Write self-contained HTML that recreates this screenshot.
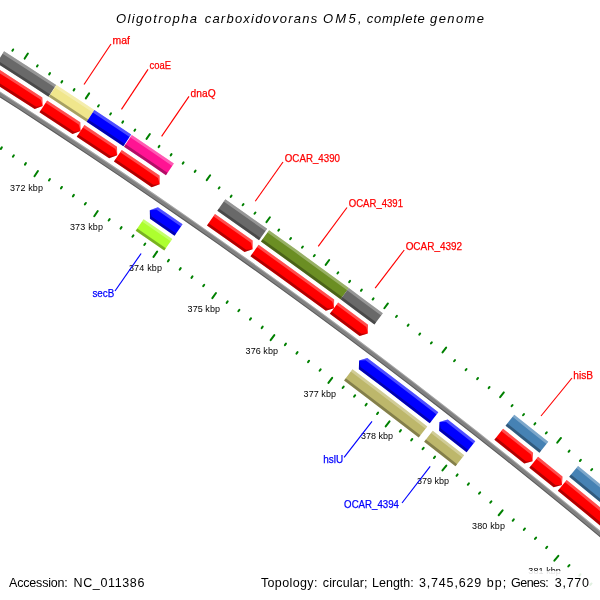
<!DOCTYPE html>
<html><head><meta charset="utf-8"><title>Oligotropha carboxidovorans OM5, complete genome</title>
<style>html,body{margin:0;padding:0;background:#fff;}svg{display:block;will-change:transform;}</style></head>
<body>
<svg width="600" height="600" viewBox="0 0 600 600" font-family="'Liberation Sans', sans-serif">
<rect width="600" height="600" fill="#fff"/>
<g stroke-linecap="round"><line x1="12.36" y1="50.71" x2="13.17" y2="49.44" stroke="#008000" stroke-width="2.0"/>
<line x1="24.65" y1="58.58" x2="27.89" y2="53.53" stroke="#008000" stroke-width="2.0"/>
<line x1="36.93" y1="66.48" x2="37.74" y2="65.22" stroke="#008000" stroke-width="2.0"/>
<line x1="49.18" y1="74.42" x2="50.00" y2="73.16" stroke="#008000" stroke-width="2.0"/>
<line x1="1.82" y1="147.39" x2="0.84" y2="148.90" stroke="#008000" stroke-width="2.0"/>
<line x1="61.42" y1="82.38" x2="62.24" y2="81.12" stroke="#008000" stroke-width="2.0"/>
<line x1="13.88" y1="155.24" x2="12.89" y2="156.75" stroke="#008000" stroke-width="2.0"/>
<line x1="73.63" y1="90.37" x2="74.45" y2="89.12" stroke="#008000" stroke-width="2.0"/>
<line x1="25.92" y1="163.12" x2="24.93" y2="164.63" stroke="#008000" stroke-width="2.0"/>
<line x1="85.83" y1="98.39" x2="89.13" y2="93.38" stroke="#008000" stroke-width="2.0"/>
<line x1="37.94" y1="171.03" x2="34.47" y2="176.29" stroke="#008000" stroke-width="2.0"/>
<line x1="98.01" y1="106.44" x2="98.84" y2="105.19" stroke="#008000" stroke-width="2.0"/>
<line x1="49.95" y1="178.96" x2="48.95" y2="180.46" stroke="#008000" stroke-width="2.0"/>
<line x1="110.17" y1="114.52" x2="111.00" y2="113.27" stroke="#008000" stroke-width="2.0"/>
<line x1="61.93" y1="186.93" x2="60.93" y2="188.42" stroke="#008000" stroke-width="2.0"/>
<line x1="122.31" y1="122.63" x2="123.14" y2="121.38" stroke="#008000" stroke-width="2.0"/>
<line x1="73.90" y1="194.92" x2="72.90" y2="196.41" stroke="#008000" stroke-width="2.0"/>
<line x1="134.43" y1="130.77" x2="135.26" y2="129.52" stroke="#008000" stroke-width="2.0"/>
<line x1="85.85" y1="202.94" x2="84.84" y2="204.43" stroke="#008000" stroke-width="2.0"/>
<line x1="146.53" y1="138.93" x2="149.89" y2="133.96" stroke="#008000" stroke-width="2.0"/>
<line x1="97.77" y1="210.99" x2="94.24" y2="216.21" stroke="#008000" stroke-width="2.0"/>
<line x1="158.61" y1="147.13" x2="159.45" y2="145.89" stroke="#008000" stroke-width="2.0"/>
<line x1="109.68" y1="219.07" x2="108.67" y2="220.55" stroke="#008000" stroke-width="2.0"/>
<line x1="170.67" y1="155.35" x2="171.52" y2="154.11" stroke="#008000" stroke-width="2.0"/>
<line x1="121.57" y1="227.17" x2="120.56" y2="228.66" stroke="#008000" stroke-width="2.0"/>
<line x1="182.71" y1="163.60" x2="183.56" y2="162.37" stroke="#008000" stroke-width="2.0"/>
<line x1="133.44" y1="235.31" x2="132.42" y2="236.79" stroke="#008000" stroke-width="2.0"/>
<line x1="194.73" y1="171.88" x2="195.58" y2="170.65" stroke="#008000" stroke-width="2.0"/>
<line x1="145.29" y1="243.47" x2="144.27" y2="244.95" stroke="#008000" stroke-width="2.0"/>
<line x1="206.73" y1="180.19" x2="210.16" y2="175.26" stroke="#008000" stroke-width="2.0"/>
<line x1="157.12" y1="251.66" x2="153.53" y2="256.84" stroke="#008000" stroke-width="2.0"/>
<line x1="218.72" y1="188.53" x2="219.57" y2="187.30" stroke="#008000" stroke-width="2.0"/>
<line x1="168.93" y1="259.88" x2="167.90" y2="261.36" stroke="#008000" stroke-width="2.0"/>
<line x1="230.68" y1="196.90" x2="231.54" y2="195.67" stroke="#008000" stroke-width="2.0"/>
<line x1="180.73" y1="268.13" x2="179.69" y2="269.60" stroke="#008000" stroke-width="2.0"/>
<line x1="242.62" y1="205.30" x2="243.48" y2="204.07" stroke="#008000" stroke-width="2.0"/>
<line x1="192.50" y1="276.41" x2="191.46" y2="277.88" stroke="#008000" stroke-width="2.0"/>
<line x1="254.54" y1="213.72" x2="255.41" y2="212.50" stroke="#008000" stroke-width="2.0"/>
<line x1="204.25" y1="284.71" x2="203.21" y2="286.18" stroke="#008000" stroke-width="2.0"/>
<line x1="266.44" y1="222.17" x2="269.92" y2="217.29" stroke="#008000" stroke-width="2.0"/>
<line x1="215.98" y1="293.04" x2="212.33" y2="298.18" stroke="#008000" stroke-width="2.0"/>
<line x1="278.33" y1="230.65" x2="279.20" y2="229.44" stroke="#008000" stroke-width="2.0"/>
<line x1="227.69" y1="301.40" x2="226.65" y2="302.87" stroke="#008000" stroke-width="2.0"/>
<line x1="290.19" y1="239.16" x2="291.06" y2="237.95" stroke="#008000" stroke-width="2.0"/>
<line x1="239.39" y1="309.79" x2="238.33" y2="311.25" stroke="#008000" stroke-width="2.0"/>
<line x1="302.03" y1="247.70" x2="302.91" y2="246.49" stroke="#008000" stroke-width="2.0"/>
<line x1="251.06" y1="318.21" x2="250.00" y2="319.67" stroke="#008000" stroke-width="2.0"/>
<line x1="313.85" y1="256.27" x2="314.73" y2="255.06" stroke="#008000" stroke-width="2.0"/>
<line x1="262.71" y1="326.65" x2="261.65" y2="328.11" stroke="#008000" stroke-width="2.0"/>
<line x1="325.65" y1="264.86" x2="329.19" y2="260.02" stroke="#008000" stroke-width="2.0"/>
<line x1="274.34" y1="335.13" x2="270.62" y2="340.21" stroke="#008000" stroke-width="2.0"/>
<line x1="337.43" y1="273.49" x2="338.31" y2="272.28" stroke="#008000" stroke-width="2.0"/>
<line x1="285.95" y1="343.63" x2="284.89" y2="345.08" stroke="#008000" stroke-width="2.0"/>
<line x1="349.18" y1="282.14" x2="350.07" y2="280.93" stroke="#008000" stroke-width="2.0"/>
<line x1="297.54" y1="352.15" x2="296.47" y2="353.60" stroke="#008000" stroke-width="2.0"/>
<line x1="360.92" y1="290.82" x2="361.82" y2="289.61" stroke="#008000" stroke-width="2.0"/>
<line x1="309.11" y1="360.71" x2="308.04" y2="362.16" stroke="#008000" stroke-width="2.0"/>
<line x1="372.64" y1="299.53" x2="373.54" y2="298.32" stroke="#008000" stroke-width="2.0"/>
<line x1="320.66" y1="369.29" x2="319.59" y2="370.74" stroke="#008000" stroke-width="2.0"/>
<line x1="384.34" y1="308.26" x2="387.93" y2="303.46" stroke="#008000" stroke-width="2.0"/>
<line x1="332.19" y1="377.90" x2="328.42" y2="382.95" stroke="#008000" stroke-width="2.0"/>
<line x1="396.01" y1="317.02" x2="396.91" y2="315.83" stroke="#008000" stroke-width="2.0"/>
<line x1="343.70" y1="386.54" x2="342.62" y2="387.98" stroke="#008000" stroke-width="2.0"/>
<line x1="407.66" y1="325.82" x2="408.57" y2="324.62" stroke="#008000" stroke-width="2.0"/>
<line x1="355.19" y1="395.21" x2="354.10" y2="396.64" stroke="#008000" stroke-width="2.0"/>
<line x1="419.30" y1="334.64" x2="420.20" y2="333.44" stroke="#008000" stroke-width="2.0"/>
<line x1="366.66" y1="403.90" x2="365.57" y2="405.33" stroke="#008000" stroke-width="2.0"/>
<line x1="430.91" y1="343.48" x2="431.82" y2="342.29" stroke="#008000" stroke-width="2.0"/>
<line x1="378.10" y1="412.62" x2="377.01" y2="414.05" stroke="#008000" stroke-width="2.0"/>
<line x1="442.50" y1="352.36" x2="446.15" y2="347.60" stroke="#008000" stroke-width="2.0"/>
<line x1="389.53" y1="421.37" x2="385.69" y2="426.37" stroke="#008000" stroke-width="2.0"/>
<line x1="454.07" y1="361.26" x2="454.99" y2="360.07" stroke="#008000" stroke-width="2.0"/>
<line x1="400.93" y1="430.15" x2="399.83" y2="431.57" stroke="#008000" stroke-width="2.0"/>
<line x1="465.62" y1="370.19" x2="466.54" y2="369.00" stroke="#008000" stroke-width="2.0"/>
<line x1="412.31" y1="438.95" x2="411.21" y2="440.37" stroke="#008000" stroke-width="2.0"/>
<line x1="477.14" y1="379.15" x2="478.07" y2="377.96" stroke="#008000" stroke-width="2.0"/>
<line x1="423.68" y1="447.78" x2="422.57" y2="449.20" stroke="#008000" stroke-width="2.0"/>
<line x1="488.65" y1="388.13" x2="489.57" y2="386.95" stroke="#008000" stroke-width="2.0"/>
<line x1="435.02" y1="456.64" x2="433.91" y2="458.05" stroke="#008000" stroke-width="2.0"/>
<line x1="500.13" y1="397.15" x2="503.84" y2="392.43" stroke="#008000" stroke-width="2.0"/>
<line x1="446.34" y1="465.52" x2="442.44" y2="470.47" stroke="#008000" stroke-width="2.0"/>
<line x1="511.60" y1="406.19" x2="512.53" y2="405.01" stroke="#008000" stroke-width="2.0"/>
<line x1="457.64" y1="474.43" x2="456.52" y2="475.84" stroke="#008000" stroke-width="2.0"/>
<line x1="523.04" y1="415.25" x2="523.97" y2="414.08" stroke="#008000" stroke-width="2.0"/>
<line x1="468.91" y1="483.37" x2="467.79" y2="484.78" stroke="#008000" stroke-width="2.0"/>
<line x1="534.45" y1="424.35" x2="535.39" y2="423.18" stroke="#008000" stroke-width="2.0"/>
<line x1="480.17" y1="492.33" x2="479.05" y2="493.74" stroke="#008000" stroke-width="2.0"/>
<line x1="545.85" y1="433.47" x2="546.79" y2="432.30" stroke="#008000" stroke-width="2.0"/>
<line x1="491.40" y1="501.33" x2="490.28" y2="502.73" stroke="#008000" stroke-width="2.0"/>
<line x1="557.23" y1="442.62" x2="560.99" y2="437.95" stroke="#008000" stroke-width="2.0"/>
<line x1="502.62" y1="510.35" x2="498.66" y2="515.25" stroke="#008000" stroke-width="2.0"/>
<line x1="568.58" y1="451.80" x2="569.52" y2="450.63" stroke="#008000" stroke-width="2.0"/>
<line x1="513.81" y1="519.39" x2="512.67" y2="520.79" stroke="#008000" stroke-width="2.0"/>
<line x1="579.91" y1="461.00" x2="580.86" y2="459.84" stroke="#008000" stroke-width="2.0"/>
<line x1="524.98" y1="528.46" x2="523.84" y2="529.86" stroke="#008000" stroke-width="2.0"/>
<line x1="591.22" y1="470.23" x2="592.17" y2="469.07" stroke="#008000" stroke-width="2.0"/>
<line x1="536.13" y1="537.56" x2="534.99" y2="538.96" stroke="#008000" stroke-width="2.0"/>
<line x1="547.25" y1="546.69" x2="546.11" y2="548.08" stroke="#008000" stroke-width="2.0"/>
<line x1="558.36" y1="555.84" x2="554.34" y2="560.70" stroke="#008000" stroke-width="2.0"/>
<line x1="569.44" y1="565.02" x2="568.29" y2="566.41" stroke="#008000" stroke-width="2.0"/>
<line x1="580.50" y1="574.23" x2="579.34" y2="575.61" stroke="#008000" stroke-width="2.0"/>
<line x1="591.54" y1="583.46" x2="590.38" y2="584.84" stroke="#008000" stroke-width="2.0"/></g>
<polygon points="-182.19,-20.91 -147.87,-0.42 -113.69,20.30 -79.65,41.25 -45.75,62.41 -11.99,83.81 21.63,105.42 55.11,127.26 88.44,149.31 121.63,171.59 154.67,194.08 187.56,216.79 220.30,239.72 252.88,262.86 285.32,286.22 317.59,309.79 349.72,333.58 381.68,357.57 413.49,381.78 445.13,406.19 476.62,430.81 507.94,455.64 539.10,480.68 570.09,505.92 600.91,531.36 631.56,557.01 662.05,582.86 692.36,608.91 722.50,635.16 752.47,661.61 749.15,665.34 719.21,638.92 689.09,612.69 658.80,586.66 628.34,560.84 597.71,535.21 566.92,509.79 535.95,484.57 504.82,459.55 473.52,434.74 442.07,410.14 410.45,385.75 378.67,361.56 346.73,337.59 314.63,313.82 282.38,290.27 249.97,266.93 217.41,243.81 184.70,220.90 151.84,198.21 118.83,175.73 85.67,153.47 52.36,131.44 18.92,109.62 -14.68,88.02 -48.41,66.65 -82.29,45.50 -116.30,24.57 -150.45,3.86 -184.74,-16.61" fill="#808080"/>
<polygon points="-184.23,-17.47 -149.93,3.01 -115.78,23.71 -81.76,44.65 -47.88,65.80 -14.14,87.18 19.46,108.78 52.91,130.60 86.22,152.64 119.39,174.90 152.40,197.38 185.27,220.08 217.99,242.99 250.56,266.12 282.97,289.46 315.22,313.02 347.33,336.78 379.27,360.76 411.06,384.95 442.68,409.35 474.14,433.96 505.44,458.77 536.58,483.79 567.55,509.01 598.35,534.44 628.99,560.07 659.45,585.90 689.75,611.93 719.87,638.17 749.82,664.60 749.15,665.34 719.21,638.92 689.09,612.69 658.80,586.66 628.34,560.84 597.71,535.21 566.92,509.79 535.95,484.57 504.82,459.55 473.52,434.74 442.07,410.14 410.45,385.75 378.67,361.56 346.73,337.59 314.63,313.82 282.38,290.27 249.97,266.93 217.41,243.81 184.70,220.90 151.84,198.21 118.83,175.73 85.67,153.47 52.36,131.44 18.92,109.62 -14.68,88.02 -48.41,66.65 -82.29,45.50 -116.30,24.57 -150.45,3.86 -184.74,-16.61" fill="#000" fill-opacity="0.3"/>
<polygon points="-182.19,-20.91 -147.87,-0.42 -113.69,20.30 -79.65,41.25 -45.75,62.41 -11.99,83.81 21.63,105.42 55.11,127.26 88.44,149.31 121.63,171.59 154.67,194.08 187.56,216.79 220.30,239.72 252.88,262.86 285.32,286.22 317.59,309.79 349.72,333.58 381.68,357.57 413.49,381.78 445.13,406.19 476.62,430.81 507.94,455.64 539.10,480.68 570.09,505.92 600.91,531.36 631.56,557.01 662.05,582.86 692.36,608.91 722.50,635.16 752.47,661.61 751.81,662.35 721.85,635.91 691.71,609.67 661.40,583.62 630.92,557.78 600.27,532.13 569.45,506.69 538.47,481.46 507.31,456.42 476.00,431.60 444.52,406.98 412.88,382.57 381.08,358.37 349.12,334.38 317.00,310.60 284.73,287.03 252.30,263.68 219.72,240.54 186.99,217.61 154.10,194.91 121.07,172.42 87.89,150.15 54.56,128.09 21.09,106.26 -12.53,84.65 -46.28,63.26 -80.18,42.10 -114.21,21.15 -148.39,0.44 -182.70,-20.05" fill="#fff" fill-opacity="0.3"/>
<polygon points="4.09,51.36 30.16,68.07 56.15,84.92 48.51,96.65 22.58,79.84 -3.44,63.17" fill="#696969"/>
<polygon points="4.09,51.36 30.16,68.07 56.15,84.92 54.62,87.26 28.64,70.43 2.58,53.72" fill="#fff" fill-opacity="0.3"/>
<polygon points="-1.93,60.80 24.09,77.49 50.04,94.30 48.51,96.65 22.58,79.84 -3.44,63.17" fill="#000" fill-opacity="0.3"/>
<polygon points="56.46,85.12 75.45,97.55 94.40,110.05 86.67,121.72 67.76,109.25 48.81,96.84" fill="#f0e68c"/>
<polygon points="56.46,85.12 75.45,97.55 94.40,110.05 92.85,112.38 73.91,99.89 54.93,87.46" fill="#fff" fill-opacity="0.3"/>
<polygon points="50.34,94.50 69.30,106.91 88.21,119.39 86.67,121.72 67.76,109.25 48.81,96.84" fill="#000" fill-opacity="0.3"/>
<polygon points="94.40,110.05 112.81,122.30 131.19,134.61 123.37,146.23 105.04,133.94 86.67,121.72" fill="#0000ff"/>
<polygon points="94.40,110.05 112.81,122.30 131.19,134.61 129.62,136.93 111.26,124.63 92.85,112.38" fill="#fff" fill-opacity="0.3"/>
<polygon points="88.21,119.39 106.60,131.61 124.93,143.90 123.37,146.23 105.04,133.94 86.67,121.72" fill="#000" fill-opacity="0.3"/>
<polygon points="131.79,135.02 152.86,149.26 173.87,163.60 165.95,175.15 144.99,160.85 123.97,146.63" fill="#ff1493"/>
<polygon points="131.79,135.02 152.86,149.26 173.87,163.60 172.29,165.91 151.29,151.58 130.23,137.34" fill="#fff" fill-opacity="0.3"/>
<polygon points="125.54,144.31 146.57,158.53 167.54,172.84 165.95,175.15 144.99,160.85 123.97,146.63" fill="#000" fill-opacity="0.3"/>
<polygon points="225.32,199.25 246.27,213.99 267.16,228.82 259.03,240.22 238.19,225.43 217.29,210.72" fill="#696969"/>
<polygon points="225.32,199.25 246.27,213.99 267.16,228.82 265.53,231.10 244.65,216.28 223.72,201.54" fill="#fff" fill-opacity="0.3"/>
<polygon points="218.90,208.42 239.81,223.14 260.65,237.94 259.03,240.22 238.19,225.43 217.29,210.72" fill="#000" fill-opacity="0.3"/>
<polygon points="269.06,230.18 295.76,249.34 322.35,268.65 348.84,288.10 340.53,299.36 314.10,279.96 287.56,260.69 260.92,241.57" fill="#6b8e23"/>
<polygon points="269.06,230.18 295.76,249.34 322.35,268.65 348.84,288.10 347.18,290.35 320.70,270.91 294.12,251.61 267.43,232.45" fill="#fff" fill-opacity="0.3"/>
<polygon points="262.55,239.29 289.20,258.42 315.75,277.70 342.19,297.11 340.53,299.36 314.10,279.96 287.56,260.69 260.92,241.57" fill="#000" fill-opacity="0.3"/>
<polygon points="348.84,288.10 365.85,300.71 382.82,313.37 374.42,324.57 357.50,311.94 340.53,299.36" fill="#696969"/>
<polygon points="348.84,288.10 365.85,300.71 382.82,313.37 381.14,315.61 364.18,302.95 347.18,290.35" fill="#fff" fill-opacity="0.3"/>
<polygon points="342.19,297.11 359.17,309.69 376.10,322.33 374.42,324.57 357.50,311.94 340.53,299.36" fill="#000" fill-opacity="0.3"/>
<polygon points="514.24,414.66 531.27,428.20 548.24,441.80 539.47,452.71 522.53,439.14 505.55,425.63" fill="#4682b4"/>
<polygon points="514.24,414.66 531.27,428.20 548.24,441.80 546.49,443.99 529.52,430.39 512.50,416.85" fill="#fff" fill-opacity="0.3"/>
<polygon points="507.29,423.44 524.28,436.95 541.22,450.53 539.47,452.71 522.53,439.14 505.55,425.63" fill="#000" fill-opacity="0.3"/>
<polygon points="578.04,465.92 607.60,490.16 637.02,514.59 666.28,539.20 657.23,549.89 628.04,525.33 598.69,500.96 569.19,476.78" fill="#4682b4"/>
<polygon points="578.04,465.92 607.60,490.16 637.02,514.59 666.28,539.20 664.47,541.34 635.22,516.74 605.82,492.32 576.27,468.09" fill="#fff" fill-opacity="0.3"/>
<polygon points="570.96,474.60 600.47,498.80 629.83,523.19 659.04,547.75 657.23,549.89 628.04,525.33 598.69,500.96 569.19,476.78" fill="#000" fill-opacity="0.3"/>
<polygon points="143.61,219.24 172.26,239.04 164.27,250.54 135.68,230.78" fill="#adff2f"/>
<polygon points="143.61,219.24 172.26,239.04 170.66,241.34 142.02,221.55" fill="#fff" fill-opacity="0.3"/>
<polygon points="137.26,228.47 165.87,248.24 164.27,250.54 135.68,230.78" fill="#000" fill-opacity="0.3"/>
<polygon points="352.48,369.37 377.51,388.29 402.44,407.33 427.27,426.51 418.69,437.57 393.92,418.44 369.04,399.44 344.07,380.56" fill="#bdb76b"/>
<polygon points="352.48,369.37 377.51,388.29 402.44,407.33 427.27,426.51 425.56,428.72 400.74,409.55 375.82,390.52 350.80,371.61" fill="#fff" fill-opacity="0.3"/>
<polygon points="345.75,378.33 370.74,397.21 395.62,416.22 420.41,435.35 418.69,437.57 393.92,418.44 369.04,399.44 344.07,380.56" fill="#000" fill-opacity="0.3"/>
<polygon points="432.74,430.76 448.46,443.03 464.14,455.35 455.46,466.34 439.82,454.05 424.14,441.80" fill="#bdb76b"/>
<polygon points="432.74,430.76 448.46,443.03 464.14,455.35 462.40,457.55 446.73,445.23 431.02,432.97" fill="#fff" fill-opacity="0.3"/>
<polygon points="425.86,439.59 441.55,451.84 457.20,464.15 455.46,466.34 439.82,454.05 424.14,441.80" fill="#000" fill-opacity="0.3"/>
<polygon points="-5.59,66.54 18.39,81.90 42.30,97.38 42.68,105.98 34.67,109.11 10.81,93.67 -13.11,78.34" fill="#ff0000"/>
<polygon points="-5.59,66.54 18.39,81.90 42.30,97.38 42.68,105.98 40.78,99.73 16.88,84.26 -7.09,68.90" fill="#fff" fill-opacity="0.3"/>
<polygon points="-13.11,78.34 10.81,93.67 34.67,109.11 42.68,105.98 36.19,106.77 12.33,91.32 -11.61,75.98" fill="#000" fill-opacity="0.3"/>
<polygon points="47.12,100.51 80.27,122.29 80.59,130.89 72.55,133.96 39.47,112.24" fill="#ff0000"/>
<polygon points="47.12,100.51 80.27,122.29 80.59,130.89 78.73,124.62 45.59,102.86" fill="#fff" fill-opacity="0.3"/>
<polygon points="39.47,112.24 72.55,133.96 80.59,130.89 74.10,131.63 41.00,109.89" fill="#000" fill-opacity="0.3"/>
<polygon points="84.46,125.05 116.97,146.75 117.23,155.35 109.17,158.37 76.73,136.73" fill="#ff0000"/>
<polygon points="84.46,125.05 116.97,146.75 117.23,155.35 115.41,149.07 82.91,127.39" fill="#fff" fill-opacity="0.3"/>
<polygon points="76.73,136.73 109.17,158.37 117.23,155.35 110.73,156.04 78.27,134.39" fill="#000" fill-opacity="0.3"/>
<polygon points="121.74,149.95 140.67,162.75 159.55,175.61 159.74,184.22 151.65,187.17 132.81,174.33 113.92,161.56" fill="#ff0000"/>
<polygon points="121.74,149.95 140.67,162.75 159.55,175.61 159.74,184.22 157.97,177.92 139.10,165.06 120.18,152.27" fill="#fff" fill-opacity="0.3"/>
<polygon points="113.92,161.56 132.81,174.33 151.65,187.17 159.74,184.22 153.23,184.86 134.38,172.01 115.49,159.24" fill="#000" fill-opacity="0.3"/>
<polygon points="214.99,213.99 233.83,227.24 252.62,240.57 252.64,249.18 244.50,251.97 225.76,238.68 206.96,225.46" fill="#ff0000"/>
<polygon points="214.99,213.99 233.83,227.24 252.62,240.57 252.64,249.18 251.00,242.85 232.22,229.53 213.39,216.29" fill="#fff" fill-opacity="0.3"/>
<polygon points="206.96,225.46 225.76,238.68 244.50,251.97 252.64,249.18 246.12,249.69 227.37,236.39 208.57,223.17" fill="#000" fill-opacity="0.3"/>
<polygon points="258.60,244.83 283.86,262.96 309.04,281.22 334.11,299.60 333.99,308.21 325.81,310.87 300.79,292.53 275.67,274.31 250.47,256.22" fill="#ff0000"/>
<polygon points="258.60,244.83 283.86,262.96 309.04,281.22 334.11,299.60 333.99,308.21 332.45,301.86 307.39,283.48 282.23,265.23 256.97,247.11" fill="#fff" fill-opacity="0.3"/>
<polygon points="250.47,256.22 275.67,274.31 300.79,292.53 325.81,310.87 333.99,308.21 327.47,308.62 302.44,290.26 277.31,272.04 252.09,253.94" fill="#000" fill-opacity="0.3"/>
<polygon points="338.15,302.58 368.01,324.77 367.83,333.38 359.62,335.98 329.83,313.84" fill="#ff0000"/>
<polygon points="338.15,302.58 368.01,324.77 367.83,333.38 366.33,327.01 336.49,304.83" fill="#fff" fill-opacity="0.3"/>
<polygon points="329.83,313.84 359.62,335.98 367.83,333.38 361.30,333.74 331.50,311.59" fill="#000" fill-opacity="0.3"/>
<polygon points="503.06,428.77 533.05,452.69 532.57,461.29 524.28,463.60 494.37,439.74" fill="#ff0000"/>
<polygon points="503.06,428.77 533.05,452.69 532.57,461.29 531.30,454.87 501.32,430.96" fill="#fff" fill-opacity="0.3"/>
<polygon points="494.37,439.74 524.28,463.60 532.57,461.29 526.04,461.42 496.11,437.54" fill="#000" fill-opacity="0.3"/>
<polygon points="538.09,456.74 562.44,476.43 561.91,485.03 553.60,487.30 529.32,467.65" fill="#ff0000"/>
<polygon points="538.09,456.74 562.44,476.43 561.91,485.03 560.67,478.61 536.34,458.92" fill="#fff" fill-opacity="0.3"/>
<polygon points="529.32,467.65 553.60,487.30 561.91,485.03 555.37,485.12 531.07,465.47" fill="#000" fill-opacity="0.3"/>
<polygon points="566.67,479.88 594.86,502.98 622.91,526.26 650.82,549.70 650.12,558.28 641.78,560.40 613.93,537.01 585.95,513.78 557.82,490.73" fill="#ff0000"/>
<polygon points="566.67,479.88 594.86,502.98 622.91,526.26 650.82,549.70 650.12,558.28 649.01,551.84 621.11,528.41 593.07,505.14 564.90,482.05" fill="#fff" fill-opacity="0.3"/>
<polygon points="557.82,490.73 585.95,513.78 613.93,537.01 641.78,560.40 650.12,558.28 643.59,558.26 615.73,534.86 587.73,511.62 559.59,488.56" fill="#000" fill-opacity="0.3"/>
<polygon points="182.54,224.27 157.91,207.23 149.83,210.17 149.98,218.76 174.55,235.76" fill="#0000ff"/>
<polygon points="182.54,224.27 157.91,207.23 149.83,210.17 156.33,209.54 180.94,226.57" fill="#fff" fill-opacity="0.3"/>
<polygon points="174.55,235.76 149.98,218.76 149.83,210.17 151.56,216.46 176.14,233.46" fill="#000" fill-opacity="0.3"/>
<polygon points="438.31,412.29 414.73,394.07 391.05,375.97 367.29,357.99 359.09,360.58 358.87,369.17 382.58,387.11 406.20,405.17 429.73,423.35" fill="#0000ff"/>
<polygon points="438.31,412.29 414.73,394.07 391.05,375.97 367.29,357.99 359.09,360.58 365.60,360.22 389.36,378.20 413.02,396.29 436.60,414.50" fill="#fff" fill-opacity="0.3"/>
<polygon points="429.73,423.35 406.20,405.17 382.58,387.11 358.87,369.17 359.09,360.58 360.55,366.93 384.27,384.89 407.90,402.95 431.44,421.14" fill="#000" fill-opacity="0.3"/>
<polygon points="475.28,441.22 447.74,419.62 439.50,422.07 439.13,430.66 466.61,452.21" fill="#0000ff"/>
<polygon points="475.28,441.22 447.74,419.62 439.50,422.07 446.01,421.83 473.55,443.42" fill="#fff" fill-opacity="0.3"/>
<polygon points="466.61,452.21 439.13,430.66 439.50,422.07 440.85,428.45 468.35,450.01" fill="#000" fill-opacity="0.3"/>
<text x="10.1" y="191" font-size="9" fill="#000" textLength="32.9" lengthAdjust="spacing">372 kbp</text>
<text x="69.92" y="230" font-size="9" fill="#000" textLength="33.08" lengthAdjust="spacing">373 kbp</text>
<text x="128.92" y="271" font-size="9" fill="#000" textLength="33.08" lengthAdjust="spacing">374 kbp</text>
<text x="187.6" y="312" font-size="9" fill="#000" textLength="32.4" lengthAdjust="spacing">375 kbp</text>
<text x="245.6" y="353.6" font-size="9" fill="#000" textLength="32.4" lengthAdjust="spacing">376 kbp</text>
<text x="303.6" y="396.5" font-size="9" fill="#000" textLength="32.4" lengthAdjust="spacing">377 kbp</text>
<text x="360.9" y="439.4" font-size="9" fill="#000" textLength="32.1" lengthAdjust="spacing">378 kbp</text>
<text x="417" y="483.5" font-size="9" fill="#000" textLength="32.1" lengthAdjust="spacing">379 kbp</text>
<text x="472.1" y="529" font-size="9" fill="#000" textLength="32.8" lengthAdjust="spacing">380 kbp</text>
<text x="528.3" y="574" font-size="9" fill="#000" textLength="32.5" lengthAdjust="spacing">381 kbp</text>
<line x1="84.02" y1="84.51" x2="111.00" y2="44.00" stroke="#ff0000" stroke-width="1.15"/>
<line x1="121.48" y1="109.32" x2="148.00" y2="69.40" stroke="#ff0000" stroke-width="1.15"/>
<line x1="161.62" y1="136.36" x2="189.00" y2="96.40" stroke="#ff0000" stroke-width="1.15"/>
<line x1="255.27" y1="201.25" x2="283.00" y2="162.00" stroke="#ff0000" stroke-width="1.15"/>
<line x1="318.23" y1="246.35" x2="347.00" y2="207.50" stroke="#ff0000" stroke-width="1.15"/>
<line x1="375.16" y1="288.19" x2="404.25" y2="250.00" stroke="#ff0000" stroke-width="1.15"/>
<line x1="541.00" y1="416.01" x2="572.00" y2="378.00" stroke="#ff0000" stroke-width="1.15"/>
<line x1="141.12" y1="253.47" x2="115.00" y2="291.00" stroke="#0000ff" stroke-width="1.15"/>
<line x1="372.02" y1="421.32" x2="344.10" y2="457.40" stroke="#0000ff" stroke-width="1.15"/>
<line x1="430.20" y1="466.33" x2="402.00" y2="503.00" stroke="#0000ff" stroke-width="1.15"/>
<text x="112.6" y="44" font-size="11" fill="#ff0000" stroke="#ff0000" stroke-width="0.25" textLength="17.4" lengthAdjust="spacingAndGlyphs">maf</text>
<text x="149.6" y="68.6" font-size="11" fill="#ff0000" stroke="#ff0000" stroke-width="0.25" textLength="21.4" lengthAdjust="spacingAndGlyphs">coaE</text>
<text x="190.6" y="97" font-size="11" fill="#ff0000" stroke="#ff0000" stroke-width="0.25" textLength="25.0" lengthAdjust="spacingAndGlyphs">dnaQ</text>
<text x="284.8" y="161.6" font-size="11" fill="#ff0000" stroke="#ff0000" stroke-width="0.25" textLength="55.2" lengthAdjust="spacingAndGlyphs">OCAR_4390</text>
<text x="348.75" y="206.75" font-size="11" fill="#ff0000" stroke="#ff0000" stroke-width="0.25" textLength="54.25" lengthAdjust="spacingAndGlyphs">OCAR_4391</text>
<text x="405.64" y="249.5" font-size="11" fill="#ff0000" stroke="#ff0000" stroke-width="0.25" textLength="56.44" lengthAdjust="spacingAndGlyphs">OCAR_4392</text>
<text x="573.28" y="378.6" font-size="11" fill="#ff0000" stroke="#ff0000" stroke-width="0.25" textLength="19.8" lengthAdjust="spacingAndGlyphs">hisB</text>
<text x="323.18" y="463.1" font-size="11" fill="#0000ff" stroke="#0000ff" stroke-width="0.25" textLength="19.9" lengthAdjust="spacingAndGlyphs">hslU</text>
<text x="344.1" y="508.1" font-size="11" fill="#0000ff" stroke="#0000ff" stroke-width="0.25" textLength="54.9" lengthAdjust="spacingAndGlyphs">OCAR_4394</text>
<text x="92.44" y="297" font-size="11" fill="#0000ff" stroke="#0000ff" stroke-width="0.25" textLength="21.8" lengthAdjust="spacingAndGlyphs">secB</text>
<text x="115.92" y="22.6" font-size="13" fill="#000" font-style="italic" textLength="81.08" lengthAdjust="spacing">Oligotropha</text>
<text x="204.7" y="22.6" font-size="13" fill="#000" font-style="italic" textLength="112.5" lengthAdjust="spacing">carboxidovorans</text>
<text x="322.98" y="22.6" font-size="13" fill="#000" font-style="italic" textLength="38.62" lengthAdjust="spacing">OM5,</text>
<text x="366.7" y="22.6" font-size="13" fill="#000" font-style="italic" textLength="58.1" lengthAdjust="spacing">complete</text>
<text x="430.1" y="22.6" font-size="13" fill="#000" font-style="italic" textLength="53.9" lengthAdjust="spacing">genome</text>
<text x="9.1" y="587" font-size="12.5" fill="#000" textLength="58.7" lengthAdjust="spacing">Accession:</text>
<text x="73.55" y="587" font-size="12.5" fill="#000" textLength="70.8" lengthAdjust="spacing">NC_011386</text>
<rect x="256" y="571" width="344" height="29" fill="#fff" fill-opacity="0.88"/>
<text x="260.92" y="587" font-size="12.5" fill="#000" textLength="56.52" lengthAdjust="spacing">Topology:</text>
<text x="322.78" y="587" font-size="12.5" fill="#000" textLength="44.8" lengthAdjust="spacing">circular;</text>
<text x="372.1" y="587" font-size="12.5" fill="#000" textLength="41.6" lengthAdjust="spacing">Length:</text>
<text x="418.9" y="587" font-size="12.5" fill="#000" textLength="62.4" lengthAdjust="spacing">3,745,629</text>
<text x="486.64" y="587" font-size="12.5" fill="#000" textLength="19.52" lengthAdjust="spacing">bp;</text>
<text x="511.0" y="587" font-size="12.5" fill="#000" textLength="37.7" lengthAdjust="spacing">Genes:</text>
<text x="554.8" y="587" font-size="12.5" fill="#000" textLength="34.1" lengthAdjust="spacing">3,770</text>
</svg>
</body></html>
